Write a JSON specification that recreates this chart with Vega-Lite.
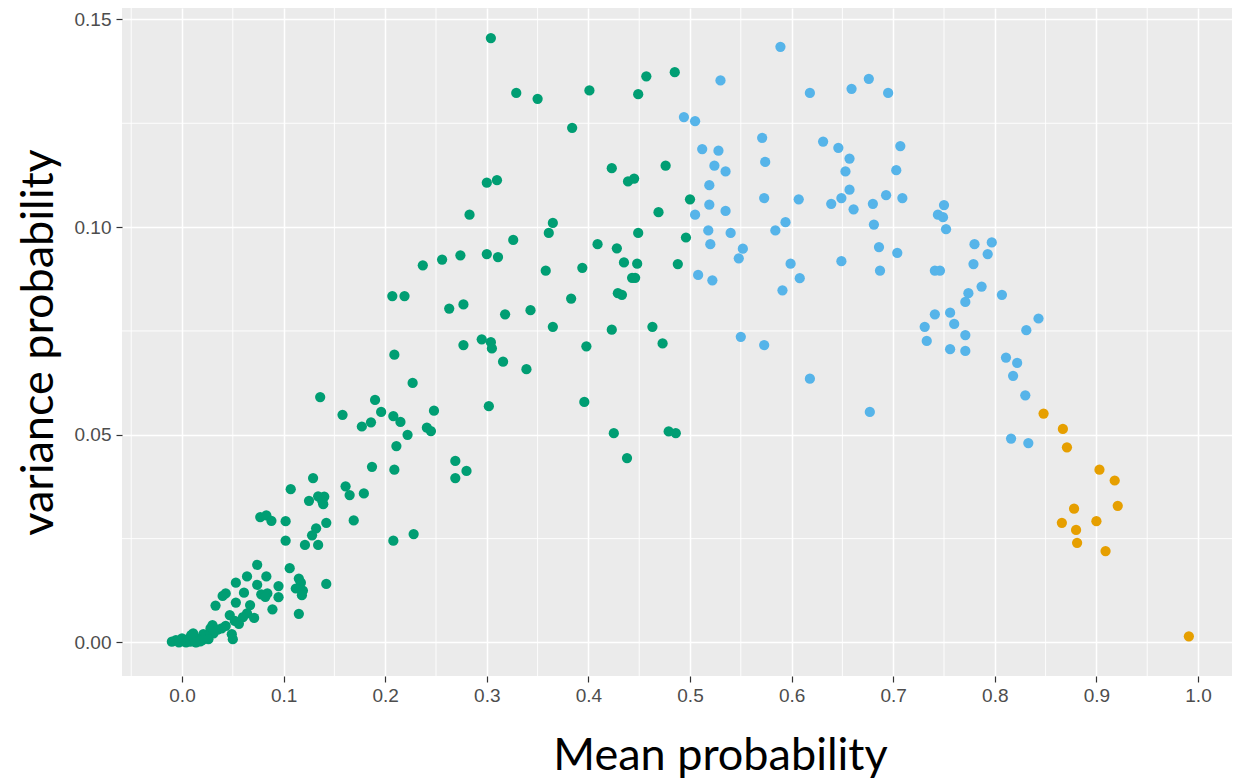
{
  "$schema": "https://vega.github.io/schema/vega-lite/v6.json",
  "autosize": {"type": "none"},
  "padding": {"left": 122, "top": 8, "right": 2, "bottom": 104},
  "width": 1110,
  "height": 668,
  "background": "white",
  "view": {"fill": "#EBEBEB", "stroke": null},
  "datasets": {
    "pts": [
      {"m":0.304,"v":0.1455,"g":"A"},{"m":0.329,"v":0.1323,"g":"A"},{"m":0.350,"v":0.1309,"g":"A"},{"m":0.401,"v":0.1329,"g":"A"},
      {"m":0.449,"v":0.1320,"g":"A"},{"m":0.457,"v":0.1363,"g":"A"},{"m":0.485,"v":0.1373,"g":"A"},{"m":0.384,"v":0.1239,"g":"A"},
      {"m":0.423,"v":0.1142,"g":"A"},{"m":0.439,"v":0.1110,"g":"A"},{"m":0.445,"v":0.1117,"g":"A"},{"m":0.476,"v":0.1148,"g":"A"},
      {"m":0.300,"v":0.1107,"g":"A"},{"m":0.310,"v":0.1113,"g":"A"},{"m":0.500,"v":0.1067,"g":"A"},{"m":0.469,"v":0.1036,"g":"A"},
      {"m":0.365,"v":0.1010,"g":"A"},{"m":0.361,"v":0.0986,"g":"A"},{"m":0.326,"v":0.0969,"g":"A"},{"m":0.449,"v":0.0986,"g":"A"},
      {"m":0.496,"v":0.0975,"g":"A"},{"m":0.409,"v":0.0959,"g":"A"},{"m":0.428,"v":0.0949,"g":"A"},{"m":0.300,"v":0.0935,"g":"A"},
      {"m":0.311,"v":0.0928,"g":"A"},{"m":0.358,"v":0.0895,"g":"A"},{"m":0.394,"v":0.0902,"g":"A"},{"m":0.435,"v":0.0915,"g":"A"},
      {"m":0.448,"v":0.0912,"g":"A"},{"m":0.488,"v":0.0911,"g":"A"},{"m":0.443,"v":0.0878,"g":"A"},{"m":0.446,"v":0.0878,"g":"A"},
      {"m":0.383,"v":0.0828,"g":"A"},{"m":0.429,"v":0.0841,"g":"A"},{"m":0.433,"v":0.0837,"g":"A"},{"m":0.318,"v":0.0790,"g":"A"},
      {"m":0.343,"v":0.0800,"g":"A"},{"m":0.365,"v":0.0760,"g":"A"},{"m":0.423,"v":0.0753,"g":"A"},{"m":0.463,"v":0.0760,"g":"A"},
      {"m":0.295,"v":0.0730,"g":"A"},{"m":0.304,"v":0.0723,"g":"A"},{"m":0.305,"v":0.0708,"g":"A"},{"m":0.398,"v":0.0713,"g":"A"},
      {"m":0.473,"v":0.0720,"g":"A"},{"m":0.316,"v":0.0676,"g":"A"},{"m":0.339,"v":0.0658,"g":"A"},{"m":0.283,"v":0.1030,"g":"A"},
      {"m":0.237,"v":0.0908,"g":"A"},{"m":0.256,"v":0.0922,"g":"A"},{"m":0.274,"v":0.0932,"g":"A"},{"m":0.207,"v":0.0834,"g":"A"},
      {"m":0.219,"v":0.0834,"g":"A"},{"m":0.263,"v":0.0804,"g":"A"},{"m":0.277,"v":0.0814,"g":"A"},{"m":0.277,"v":0.0716,"g":"A"},
      {"m":0.209,"v":0.0693,"g":"A"},{"m":0.227,"v":0.0625,"g":"A"},{"m":0.136,"v":0.0591,"g":"A"},{"m":0.190,"v":0.0584,"g":"A"},
      {"m":0.158,"v":0.0548,"g":"A"},{"m":0.196,"v":0.0555,"g":"A"},{"m":0.177,"v":0.0520,"g":"A"},{"m":0.186,"v":0.0530,"g":"A"},
      {"m":0.208,"v":0.0545,"g":"A"},{"m":0.215,"v":0.0531,"g":"A"},{"m":0.222,"v":0.0500,"g":"A"},{"m":0.241,"v":0.0517,"g":"A"},
      {"m":0.245,"v":0.0509,"g":"A"},{"m":0.248,"v":0.0558,"g":"A"},{"m":0.211,"v":0.0473,"g":"A"},{"m":0.187,"v":0.0423,"g":"A"},
      {"m":0.209,"v":0.0416,"g":"A"},{"m":0.269,"v":0.0437,"g":"A"},{"m":0.269,"v":0.0396,"g":"A"},{"m":0.280,"v":0.0413,"g":"A"},
      {"m":0.129,"v":0.0396,"g":"A"},{"m":0.107,"v":0.0369,"g":"A"},{"m":0.161,"v":0.0376,"g":"A"},{"m":0.165,"v":0.0355,"g":"A"},
      {"m":0.179,"v":0.0359,"g":"A"},{"m":0.125,"v":0.0341,"g":"A"},{"m":0.134,"v":0.0352,"g":"A"},{"m":0.140,"v":0.0351,"g":"A"},
      {"m":0.139,"v":0.0333,"g":"A"},{"m":0.138,"v":0.0341,"g":"A"},{"m":0.077,"v":0.0302,"g":"A"},{"m":0.083,"v":0.0306,"g":"A"},
      {"m":0.088,"v":0.0293,"g":"A"},{"m":0.102,"v":0.0292,"g":"A"},{"m":0.142,"v":0.0288,"g":"A"},{"m":0.169,"v":0.0294,"g":"A"},
      {"m":0.132,"v":0.0275,"g":"A"},{"m":0.128,"v":0.0258,"g":"A"},{"m":0.102,"v":0.0245,"g":"A"},{"m":0.121,"v":0.0235,"g":"A"},
      {"m":0.134,"v":0.0235,"g":"A"},{"m":0.208,"v":0.0245,"g":"A"},{"m":0.228,"v":0.0261,"g":"A"},{"m":0.302,"v":0.0569,"g":"A"},
      {"m":0.396,"v":0.0579,"g":"A"},{"m":0.425,"v":0.0504,"g":"A"},{"m":0.438,"v":0.0444,"g":"A"},{"m":0.479,"v":0.0508,"g":"A"},
      {"m":0.486,"v":0.0504,"g":"A"},{"m":0.142,"v":0.0141,"g":"A"},{"m":0.074,"v":0.0187,"g":"A"},{"m":0.064,"v":0.0159,"g":"A"},
      {"m":0.083,"v":0.0159,"g":"A"},{"m":0.053,"v":0.0144,"g":"A"},{"m":0.106,"v":0.0179,"g":"A"},{"m":0.074,"v":0.0139,"g":"A"},
      {"m":0.095,"v":0.0136,"g":"A"},{"m":0.061,"v":0.0120,"g":"A"},{"m":0.043,"v":0.0118,"g":"A"},{"m":0.040,"v":0.0112,"g":"A"},
      {"m":0.078,"v":0.0116,"g":"A"},{"m":0.084,"v":0.0118,"g":"A"},{"m":0.082,"v":0.0110,"g":"A"},{"m":0.095,"v":0.0109,"g":"A"},
      {"m":0.115,"v":0.0154,"g":"A"},{"m":0.117,"v":0.0144,"g":"A"},{"m":0.112,"v":0.0130,"g":"A"},{"m":0.119,"v":0.0125,"g":"A"},
      {"m":0.118,"v":0.0114,"g":"A"},{"m":0.053,"v":0.0096,"g":"A"},{"m":0.033,"v":0.0089,"g":"A"},{"m":0.067,"v":0.0090,"g":"A"},
      {"m":0.089,"v":0.0080,"g":"A"},{"m":0.115,"v":0.0069,"g":"A"},{"m":0.047,"v":0.0066,"g":"A"},{"m":0.064,"v":0.0070,"g":"A"},
      {"m":0.060,"v":0.0061,"g":"A"},{"m":0.071,"v":0.0059,"g":"A"},{"m":0.052,"v":0.0052,"g":"A"},{"m":0.056,"v":0.0045,"g":"A"},
      {"m":0.030,"v":0.0042,"g":"A"},{"m":0.028,"v":0.0034,"g":"A"},{"m":0.043,"v":0.0040,"g":"A"},{"m":0.039,"v":0.0034,"g":"A"},
      {"m":0.035,"v":0.0031,"g":"A"},{"m":0.031,"v":0.0022,"g":"A"},{"m":0.049,"v":0.0020,"g":"A"},{"m":0.050,"v":0.0008,"g":"A"},
      {"m":0.021,"v":0.0020,"g":"A"},{"m":0.024,"v":0.0014,"g":"A"},{"m":-0.010,"v":0.0002,"g":"A"},{"m":-0.006,"v":0.0006,"g":"A"},
      {"m":-0.003,"v":0.0000,"g":"A"},{"m":0.000,"v":0.0010,"g":"A"},{"m":0.002,"v":0.0003,"g":"A"},{"m":0.004,"v":0.0000,"g":"A"},
      {"m":0.006,"v":0.0008,"g":"A"},{"m":0.008,"v":0.0002,"g":"A"},{"m":0.010,"v":0.0014,"g":"A"},{"m":0.012,"v":0.0005,"g":"A"},
      {"m":0.014,"v":0.0000,"g":"A"},{"m":0.016,"v":0.0009,"g":"A"},{"m":0.018,"v":0.0003,"g":"A"},{"m":0.020,"v":0.0006,"g":"A"},
      {"m":0.011,"v":0.0022,"g":"A"},{"m":0.009,"v":0.0018,"g":"A"},{"m":0.026,"v":0.0008,"g":"A"},{"m":0.013,"v":0.0001,"g":"A"},
      {"m":0.530,"v":0.1353,"g":"B"},{"m":0.494,"v":0.1265,"g":"B"},{"m":0.505,"v":0.1255,"g":"B"},{"m":0.512,"v":0.1188,"g":"B"},
      {"m":0.528,"v":0.1184,"g":"B"},{"m":0.524,"v":0.1148,"g":"B"},{"m":0.519,"v":0.1101,"g":"B"},{"m":0.519,"v":0.1054,"g":"B"},
      {"m":0.505,"v":0.1030,"g":"B"},{"m":0.518,"v":0.0992,"g":"B"},{"m":0.520,"v":0.0959,"g":"B"},{"m":0.508,"v":0.0885,"g":"B"},
      {"m":0.522,"v":0.0872,"g":"B"},{"m":0.589,"v":0.1434,"g":"B"},{"m":0.618,"v":0.1323,"g":"B"},{"m":0.659,"v":0.1333,"g":"B"},
      {"m":0.676,"v":0.1357,"g":"B"},{"m":0.695,"v":0.1323,"g":"B"},{"m":0.571,"v":0.1215,"g":"B"},{"m":0.631,"v":0.1206,"g":"B"},
      {"m":0.646,"v":0.1191,"g":"B"},{"m":0.657,"v":0.1165,"g":"B"},{"m":0.653,"v":0.1134,"g":"B"},{"m":0.707,"v":0.1195,"g":"B"},
      {"m":0.703,"v":0.1137,"g":"B"},{"m":0.535,"v":0.1134,"g":"B"},{"m":0.574,"v":0.1157,"g":"B"},{"m":0.535,"v":0.1039,"g":"B"},
      {"m":0.573,"v":0.1070,"g":"B"},{"m":0.607,"v":0.1067,"g":"B"},{"m":0.639,"v":0.1056,"g":"B"},{"m":0.649,"v":0.1070,"g":"B"},
      {"m":0.657,"v":0.1090,"g":"B"},{"m":0.661,"v":0.1043,"g":"B"},{"m":0.680,"v":0.1056,"g":"B"},{"m":0.693,"v":0.1077,"g":"B"},
      {"m":0.709,"v":0.1070,"g":"B"},{"m":0.744,"v":0.1030,"g":"B"},{"m":0.540,"v":0.0986,"g":"B"},{"m":0.552,"v":0.0948,"g":"B"},
      {"m":0.548,"v":0.0925,"g":"B"},{"m":0.584,"v":0.0992,"g":"B"},{"m":0.594,"v":0.1012,"g":"B"},{"m":0.681,"v":0.1006,"g":"B"},
      {"m":0.686,"v":0.0952,"g":"B"},{"m":0.704,"v":0.0938,"g":"B"},{"m":0.599,"v":0.0912,"g":"B"},{"m":0.608,"v":0.0877,"g":"B"},
      {"m":0.591,"v":0.0848,"g":"B"},{"m":0.649,"v":0.0918,"g":"B"},{"m":0.687,"v":0.0895,"g":"B"},{"m":0.741,"v":0.0895,"g":"B"},
      {"m":0.746,"v":0.0895,"g":"B"},{"m":0.741,"v":0.0790,"g":"B"},{"m":0.731,"v":0.0760,"g":"B"},{"m":0.733,"v":0.0726,"g":"B"},
      {"m":0.550,"v":0.0736,"g":"B"},{"m":0.573,"v":0.0716,"g":"B"},{"m":0.618,"v":0.0635,"g":"B"},{"m":0.677,"v":0.0555,"g":"B"},
      {"m":0.750,"v":0.1053,"g":"B"},{"m":0.749,"v":0.1024,"g":"B"},{"m":0.752,"v":0.0995,"g":"B"},{"m":0.780,"v":0.0959,"g":"B"},
      {"m":0.797,"v":0.0963,"g":"B"},{"m":0.793,"v":0.0935,"g":"B"},{"m":0.779,"v":0.0911,"g":"B"},{"m":0.787,"v":0.0857,"g":"B"},
      {"m":0.774,"v":0.0841,"g":"B"},{"m":0.771,"v":0.0820,"g":"B"},{"m":0.807,"v":0.0837,"g":"B"},{"m":0.756,"v":0.0794,"g":"B"},
      {"m":0.760,"v":0.0767,"g":"B"},{"m":0.771,"v":0.0740,"g":"B"},{"m":0.756,"v":0.0706,"g":"B"},{"m":0.771,"v":0.0702,"g":"B"},
      {"m":0.843,"v":0.0780,"g":"B"},{"m":0.831,"v":0.0752,"g":"B"},{"m":0.811,"v":0.0686,"g":"B"},{"m":0.822,"v":0.0673,"g":"B"},
      {"m":0.818,"v":0.0642,"g":"B"},{"m":0.830,"v":0.0595,"g":"B"},{"m":0.816,"v":0.0491,"g":"B"},{"m":0.833,"v":0.0480,"g":"B"},
      {"m":0.848,"v":0.0551,"g":"C"},{"m":0.867,"v":0.0514,"g":"C"},{"m":0.871,"v":0.0470,"g":"C"},{"m":0.903,"v":0.0416,"g":"C"},
      {"m":0.918,"v":0.0390,"g":"C"},{"m":0.921,"v":0.0329,"g":"C"},{"m":0.878,"v":0.0322,"g":"C"},{"m":0.866,"v":0.0288,"g":"C"},
      {"m":0.900,"v":0.0292,"g":"C"},{"m":0.880,"v":0.0271,"g":"C"},{"m":0.881,"v":0.0240,"g":"C"},{"m":0.909,"v":0.0220,"g":"C"},
      {"m":0.991,"v":0.0015,"g":"C"}
    ],
    "minorx": [{"x":-0.05},{"x":0.05},{"x":0.15},{"x":0.25},{"x":0.35},{"x":0.45},{"x":0.55},{"x":0.65},{"x":0.75},{"x":0.85},{"x":0.95}],
    "minory": [{"y":0.025},{"y":0.075},{"y":0.125}]
  },
  "layer": [
    {
      "data": {"name": "minorx"},
      "mark": {"type": "rule", "color": "white", "strokeWidth": 0.9},
      "encoding": {"x": {"field": "x", "type": "quantitative", "scale": {"domain": [-0.05906, 1.03346], "nice": false, "zero": false}}}
    },
    {
      "data": {"name": "minory"},
      "mark": {"type": "rule", "color": "white", "strokeWidth": 0.9},
      "encoding": {"y": {"field": "y", "type": "quantitative", "scale": {"domain": [-0.008065, 0.15275], "nice": false, "zero": false}}}
    },
    {
      "data": {"name": "pts"},
      "mark": {"type": "circle", "size": 105, "opacity": 1},
      "encoding": {
        "x": {
          "field": "m", "type": "quantitative",
          "scale": {"domain": [-0.05906, 1.03346], "nice": false, "zero": false},
          "axis": {
            "values": [0, 0.1, 0.2, 0.3, 0.4, 0.5, 0.6, 0.7, 0.8, 0.9, 1.0],
            "format": ".1f",
            "title": "Mean probability",
            "titleFont": "Lato", "titleFontSize": 45, "titleFontWeight": "normal", "titleColor": "#000000",
            "titleX": 598, "titleY": 93, "titleBaseline": "alphabetic", "titleAlign": "center",
            "labelFont": "Liberation Sans", "labelFontSize": 19, "labelColor": "#4D4D4D", "labelPadding": 4,
            "tickColor": "#333333", "tickSize": 6, "tickWidth": 1.2,
            "domain": false, "grid": true, "gridColor": "#FFFFFF", "gridWidth": 1.5
          }
        },
        "y": {
          "field": "v", "type": "quantitative",
          "scale": {"domain": [-0.008065, 0.15275], "nice": false, "zero": false},
          "axis": {
            "values": [0, 0.05, 0.1, 0.15],
            "format": ".2f",
            "title": "variance probability",
            "titleFont": "Lato", "titleFontSize": 45, "titleFontWeight": "normal", "titleColor": "#000000",
            "titleX": -70, "titleY": 334, "titleBaseline": "alphabetic", "titleAlign": "center", "titleAngle": 270,
            "labelFont": "Liberation Sans", "labelFontSize": 19, "labelColor": "#4D4D4D", "labelPadding": 5,
            "tickColor": "#333333", "tickSize": 6, "tickWidth": 1.2,
            "domain": false, "grid": true, "gridColor": "#FFFFFF", "gridWidth": 1.5
          }
        },
        "color": {
          "field": "g", "type": "nominal",
          "scale": {"domain": ["A", "B", "C"], "range": ["#009E73", "#56B4E9", "#E69F00"]},
          "legend": null
        }
      }
    }
  ]
}
